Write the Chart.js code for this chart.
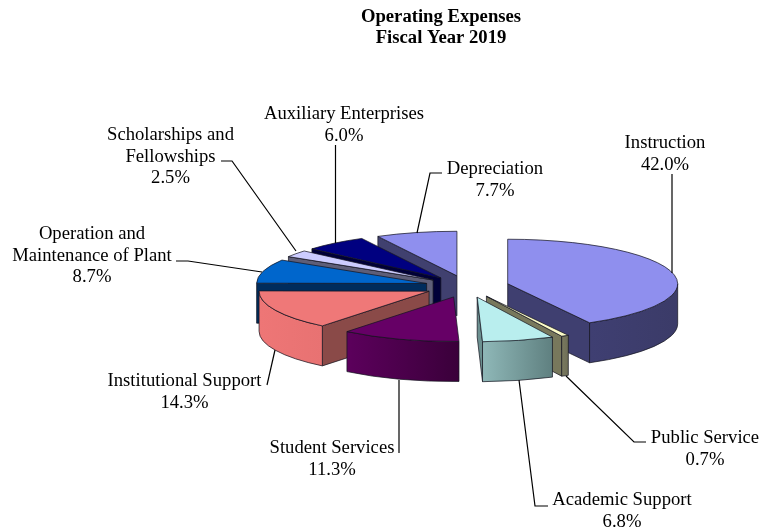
<!DOCTYPE html>
<html><head><meta charset="utf-8">
<style>html,body{margin:0;padding:0;background:#fff}#w{width:760px;height:529px}</style>
<script src="https://cdn.jsdelivr.net/npm/chart.js@4"></script></head>
<body><div id="w"><canvas id="c" width="760" height="529"></canvas></div>
<script>
const titleLines = ["Operating Expenses", "Fiscal Year 2019"];
const categories = ["Instruction","Public Service","Academic Support","Student Services","Institutional Support","Operation and Maintenance of Plant","Scholarships and Fellowships","Auxiliary Enterprises","Depreciation"];
const values = [42.0,0.7,6.8,11.3,14.3,8.7,2.5,6.0,7.7];
const topColors = ["#8F8FEE","#FCFCC8","#B9EEEE","#660066","#EF7878","#0066CC","#CCCCFF","#000080","#8F8FEE"];
const rimFrom  = ["#3F3F72","#7A7A60","#8FB8B8","#5C005C","#EE7676","#003366","#66667F","#000040","#40406F"];
const rimTo    = ["#3B3B68","#6E6E56","#5F8080","#3A003A","#E87272","#003366","#66667F","#000040","#40406F"];
const cutColors= ["#3F3F70","#78785C","#6C9090","#4A004A","#8A4A48","#002C5C","#5E5E78","#000038","#40406F"];
const paintOrder = [8,7,6,5,4,3,0,1,2];
// label placement: [centre x, first baseline y, lines]
const labelLines = [["Instruction","42.0%"],["Public Service","0.7%"],["Academic Support","6.8%"],["Student Services","11.3%"],["Institutional Support","14.3%"],["Operation and","Maintenance of Plant","8.7%"],["Scholarships and","Fellowships","2.5%"],["Auxiliary Enterprises","6.0%"],["Depreciation","7.7%"]];
const labelAnchors = [[665,148],[705,443],[622,505],[332,453],[184.5,386],[92,239],[170.5,140],[344,119],[495,174]];
const leaders = [
 [[672,174],[672,273]],
 [[646,442],[634,442],[566,376]],
 [[548,506],[535,506],[519,380]],
 [[399,453],[399,380]],
 [[267,385],[275,350]],
 [[176,261],[188,261],[262,272]],
 [[221,161],[232,161],[296,251]],
 [[335.5,145],[335.5,243]],
 [[442,173],[430,173],[417,233]]
];
const FLAT = 0.262, DEPTH = 40, EXPLODE = 42;
const FONT = '"Liberation Serif","Times New Roman",serif';

const pie3d = {
  id:'pie3d',
  beforeDatasetsDraw(chart){
    const ctx = chart.ctx, arcs = chart.getDatasetMeta(0).data;
    const pt = (cx,cy,R,a,z)=>[cx+R*Math.cos(a), cy+R*Math.sin(a)*FLAT+z];
    ctx.save();
    ctx.lineJoin='round';
    paintOrder.forEach(i=>{
      const arc = arcs[i], R = arc.outerRadius, s = arc.startAngle, e = arc.endAngle, mid=(s+e)/2;
      const cx = arc.x + EXPLODE*Math.cos(mid), cy = arc.y + EXPLODE*Math.sin(mid)*FLAT;
      ctx.strokeStyle='rgba(20,20,30,0.8)'; ctx.lineWidth=0.9;
      const face = a=>{
        const p=pt(cx,cy,R,a,0), q=pt(cx,cy,R,a,DEPTH);
        ctx.beginPath();ctx.moveTo(cx,cy);ctx.lineTo(p[0],p[1]);ctx.lineTo(q[0],q[1]);ctx.lineTo(cx,cy+DEPTH);ctx.closePath();
        ctx.fillStyle=cutColors[i];ctx.fill();ctx.stroke();
      };
      if(Math.cos(s)<-1e-6) face(s);
      if(Math.cos(e)>1e-6) face(e);
      const a0=Math.max(s,0), a1=Math.min(e,Math.PI);
      if(a1>a0){
        const p0=pt(cx,cy,R,a0,0), p1=pt(cx,cy,R,a1,0);
        const g=ctx.createLinearGradient(Math.min(p0[0],p1[0]),0,Math.max(p0[0],p1[0]),0);
        g.addColorStop(0,rimFrom[i]);g.addColorStop(1,rimTo[i]);
        ctx.beginPath();
        ctx.ellipse(cx,cy,R,R*FLAT,0,a0,a1);
        ctx.ellipse(cx,cy+DEPTH,R,R*FLAT,0,a1,a0,true);
        ctx.closePath();ctx.fillStyle=g;ctx.fill();ctx.stroke();
      }
      // top surface: the library's own arc element, flattened and moved out
      ctx.save();
      ctx.translate(EXPLODE*Math.cos(mid), arc.y+EXPLODE*Math.sin(mid)*FLAT);
      ctx.scale(1,FLAT);
      ctx.translate(0,-arc.y);
      arc.draw(ctx);
      ctx.restore();
      ctx.beginPath();ctx.moveTo(cx,cy);ctx.ellipse(cx,cy,R,R*FLAT,0,s,e);ctx.closePath();ctx.stroke();
    });
    ctx.restore();
    return false;
  },
  afterDraw(chart){
    const ctx=chart.ctx;
    ctx.save();
    ctx.strokeStyle='#000';ctx.lineWidth=1.2;
    leaders.forEach(l=>{ctx.beginPath();l.forEach((p,k)=>k?ctx.lineTo(p[0],p[1]):ctx.moveTo(p[0],p[1]));ctx.stroke();});
    ctx.fillStyle='#000';ctx.textAlign='center';ctx.textBaseline='alphabetic';
    ctx.font='bold 18.67px '+FONT;
    titleLines.forEach((t,k)=>ctx.fillText(t,441,22+k*21));
    ctx.font='18.67px '+FONT;
    labelLines.forEach((ls,i)=>ls.forEach((t,k)=>ctx.fillText(t,labelAnchors[i][0],Math.round(labelAnchors[i][1]+k*21.5))));
    ctx.restore();
  }
};

new Chart(document.getElementById('c'),{
  type:'pie',
  data:{labels:categories,datasets:[{data:values,backgroundColor:topColors,borderWidth:0,offset:0,clip:false}]},
  options:{
    responsive:false,animation:false,
    layout:{padding:{left:174,right:0,top:116.5,bottom:72.5}},
    plugins:{legend:{display:false},tooltip:{enabled:false},title:{display:false}}
  },
  plugins:[pie3d]
});
</script></body></html>
